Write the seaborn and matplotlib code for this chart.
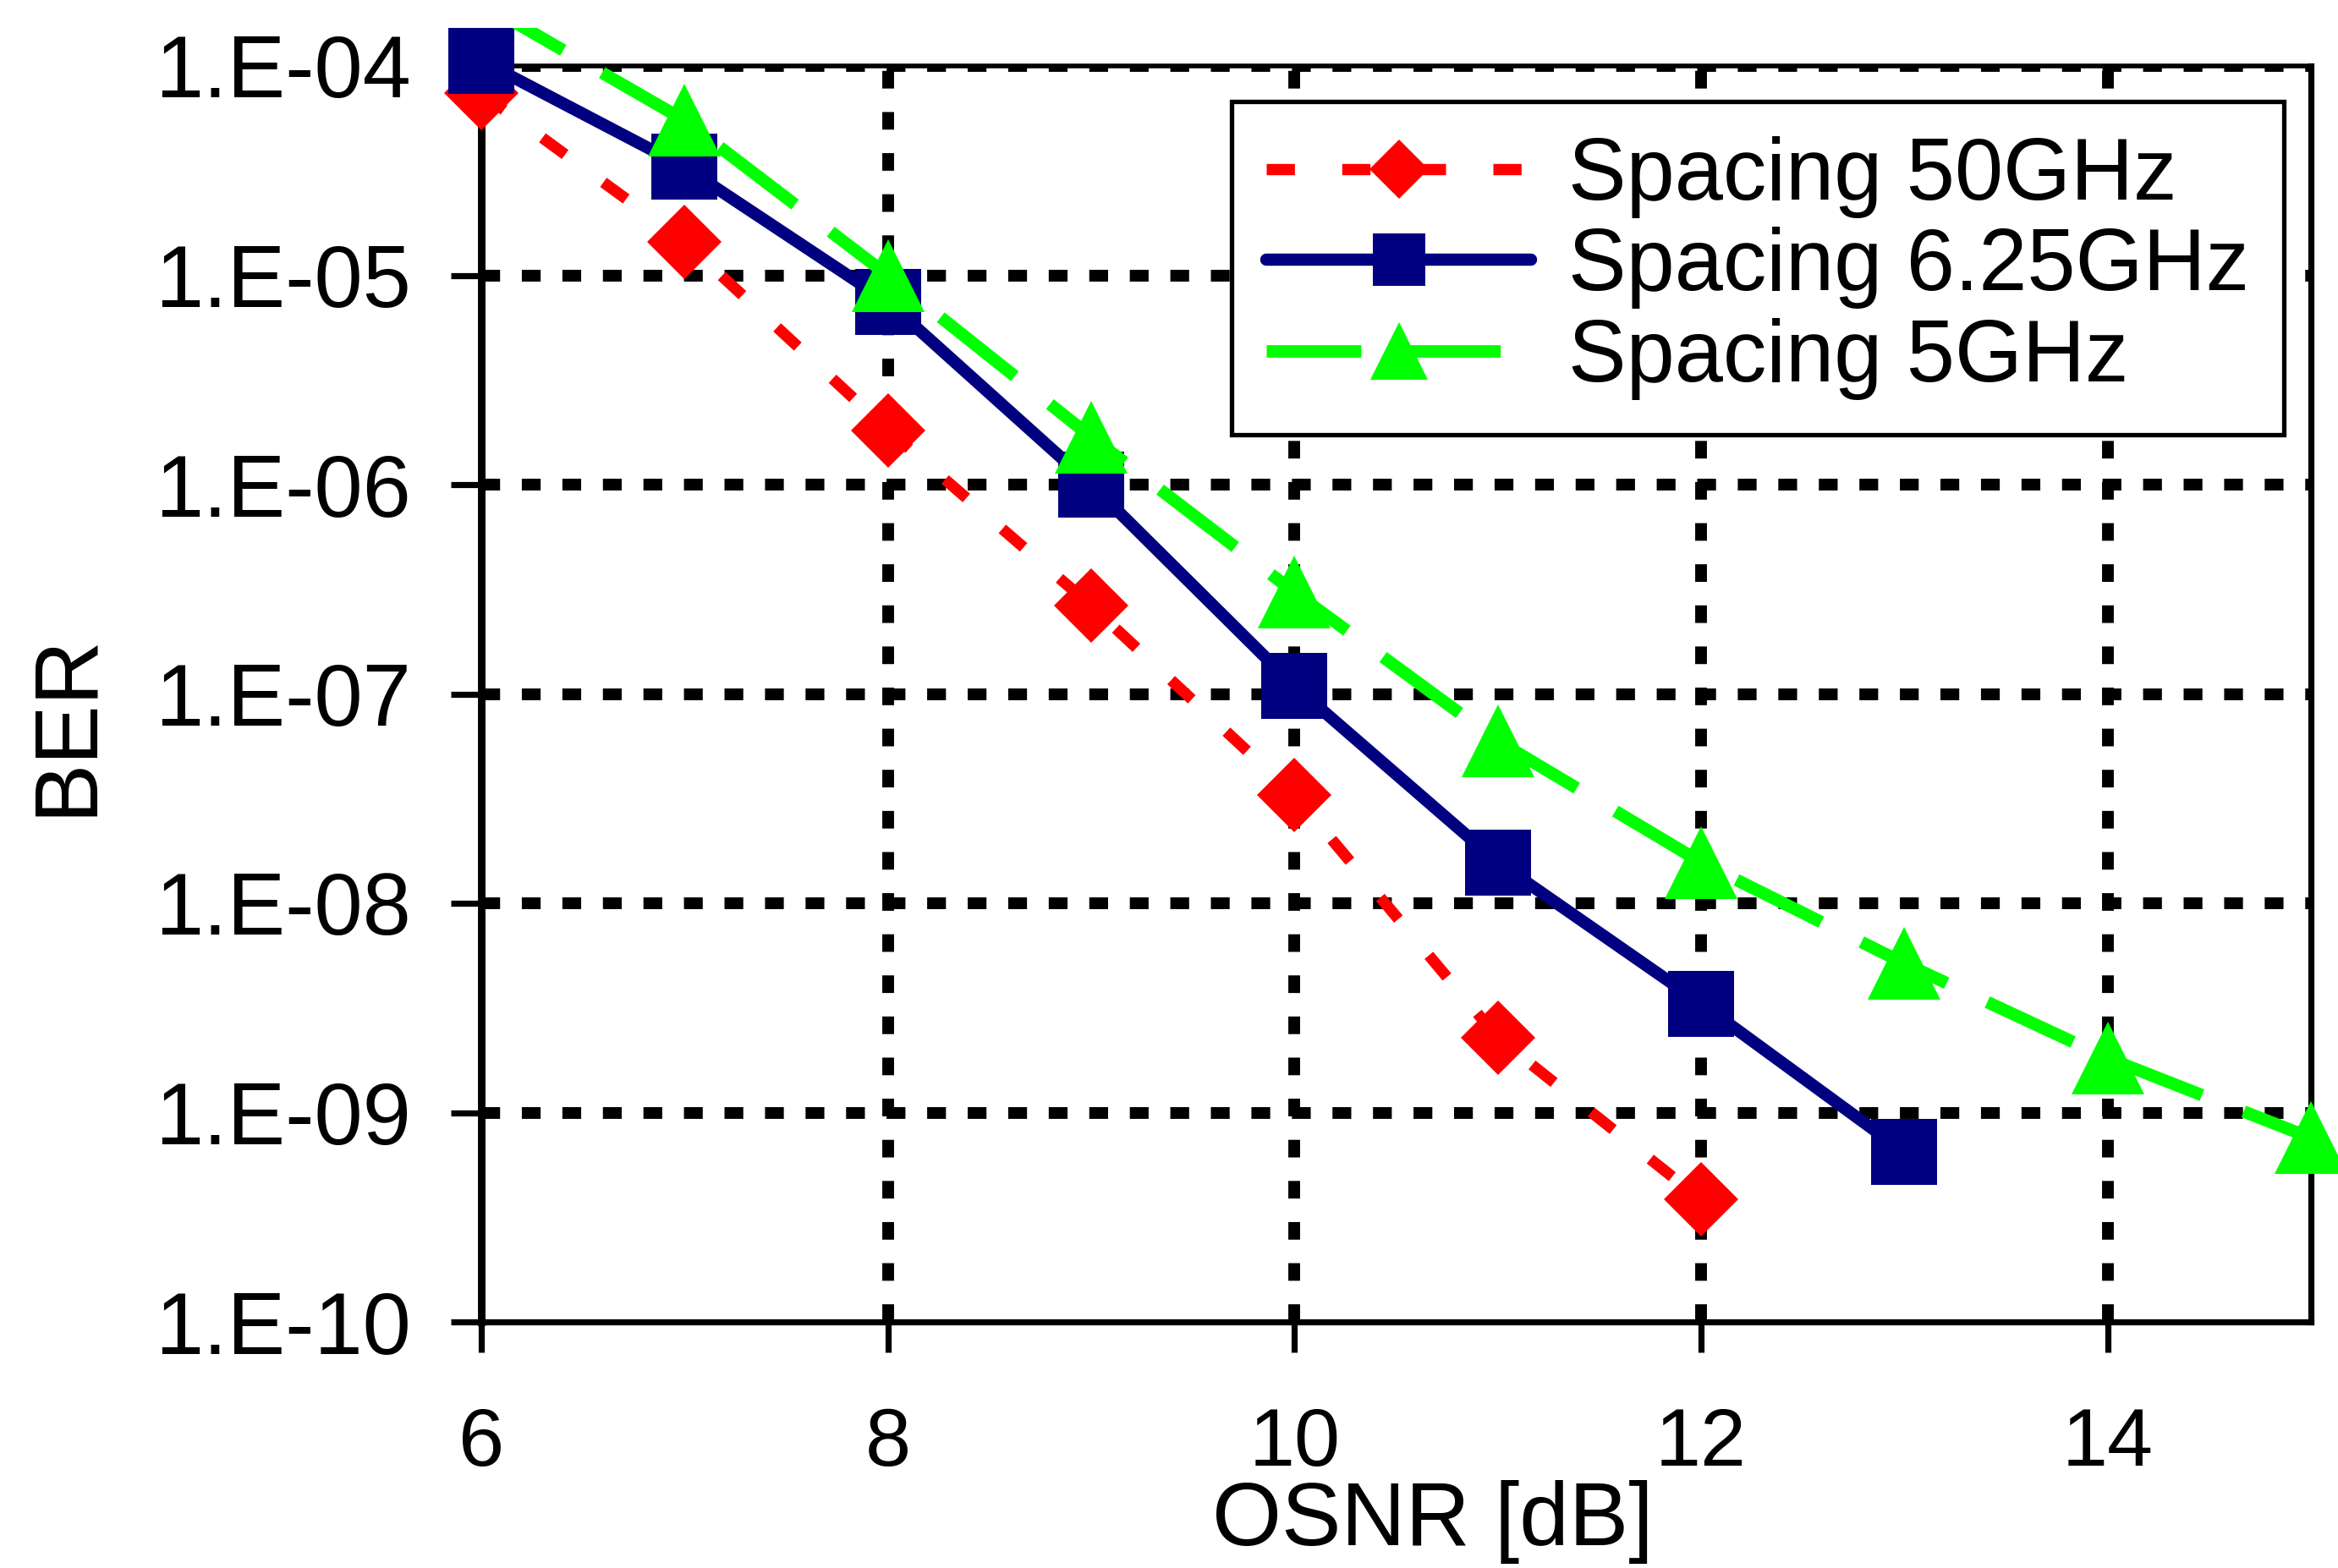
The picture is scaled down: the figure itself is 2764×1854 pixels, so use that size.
import numpy as np
import pandas as pd
import matplotlib
matplotlib.use("Agg")
import matplotlib.pyplot as plt
import seaborn as sns
from matplotlib.ticker import FixedLocator, NullLocator, FuncFormatter
from matplotlib.transforms import Bbox, TransformedBbox

# ---- data ----
osnr_50 = [6, 7, 8, 9, 10, 11, 12]
ber_50 = [7.4e-5, 1.45e-5, 1.82e-6, 2.64e-7, 3.29e-8, 2.28e-9, 3.84e-10]

osnr_625 = [6, 7, 8, 9, 10, 11, 12, 13]
ber_625 = [1.06e-4, 3.29e-5, 7.46e-6, 1.0e-6, 1.09e-7, 1.57e-8, 3.32e-9, 6.48e-10]

osnr_5 = [6, 7, 8, 9, 10, 11, 12, 13, 14, 15]
ber_5 = [2.0e-4, 5.5e-5, 1.0e-5, 1.69e-6, 3.06e-7, 5.96e-8, 1.57e-8, 5.16e-9, 1.82e-9, 7.57e-10]

labels = ["Spacing 50GHz", "Spacing 6.25GHz", "Spacing 5GHz"]
x_ticks = [6, 8, 10, 12, 14]
y_ticks = [1e-10, 1e-9, 1e-8, 1e-7, 1e-6, 1e-5, 1e-4]
x_label = "OSNR [dB]"
y_label = "BER"

# ---- figure ----
sns.set_theme(style="white")
plt.rcParams["font.family"] = ["Liberation Sans", "DejaVu Sans"]
plt.rcParams["text.color"] = "black"

W, H, DPI = 2764, 1854, 200
fig = plt.figure(figsize=(W / DPI, H / DPI), dpi=DPI)
ax = fig.add_axes([569 / W, (H - 1563) / H, (2732 - 569) / W, (1563 - 78) / H])

df50 = pd.DataFrame({"x": osnr_50, "y": ber_50})
df625 = pd.DataFrame({"x": osnr_625, "y": ber_625})
df5 = pd.DataFrame({"x": osnr_5, "y": ber_5})

sns.lineplot(data=df50, x="x", y="y", ax=ax, color="#FF0000", linewidth=4.8,
             linestyle=(0, (2.5, 4.2)), marker="D", markersize=22.5,
             markeredgewidth=0, markeredgecolor="#FF0000",
             label=labels[0], zorder=5, errorbar=None)
sns.lineplot(data=df625, x="x", y="y", ax=ax, color="#000080", linewidth=5.2,
             linestyle="-", marker="s", markersize=28,
             markeredgewidth=0, markeredgecolor="#000080",
             label=labels[1], zorder=6, errorbar=None)
sns.lineplot(data=df5, x="x", y="y", ax=ax, color="#00FF00", linewidth=5.3,
             linestyle=(0, (7.6, 3.6)), marker="^", markersize=31,
             markeredgewidth=0, markeredgecolor="#00FF00",
             label=labels[2], zorder=7, errorbar=None)

ax.set_yscale("log")
ax.set_xlim(6, 15)
ax.set_ylim(1e-10, 1e-4)

ax.xaxis.set_major_locator(FixedLocator(x_ticks))
ax.xaxis.set_minor_locator(NullLocator())
ax.yaxis.set_major_locator(FixedLocator(y_ticks))
ax.yaxis.set_minor_locator(NullLocator())
ax.yaxis.set_major_formatter(FuncFormatter(lambda v, p: "1.E-%02d" % int(round(-np.log10(v)))))
ax.xaxis.set_major_formatter(FuncFormatter(lambda v, p: "%d" % v))

ax.tick_params(axis="both", which="major", direction="out", length=13, width=2.6,
               color="black", labelcolor="black")
ax.tick_params(axis="y", pad=17, left=True, labelsize=37)
ax.tick_params(axis="x", pad=23, bottom=True, labelsize=35)

# grid
ax.grid(False)
for yv in y_ticks[1:]:
    ax.axhline(yv, color="black", lw=5, linestyle=(0, (1.6, 1.85)), zorder=1)
for xv in x_ticks[1:]:
    ax.axvline(xv, color="black", lw=5, linestyle=(0, (1.5, 2.0)), zorder=1)

for side, lw in [("left", 3.2), ("bottom", 2.6), ("right", 2.6), ("top", 2.0)]:
    ax.spines[side].set_visible(True)
    ax.spines[side].set_color("black")
    ax.spines[side].set_linewidth(lw)

ax.set_xlabel(x_label, fontsize=38, color="black")
ax.set_ylabel(y_label, fontsize=38, color="black")
ax.xaxis.label.set_va("center")
ax.yaxis.label.set_va("center")
ax.xaxis.set_label_coords(0.520, -0.159)
ax.yaxis.set_label_coords(-0.2265, 0.4754)

leg = ax.legend(loc="upper left", bbox_to_anchor=(0.410, 0.9717), borderaxespad=0,
                fontsize=37, handlelength=3.05, handletextpad=0.42, labelspacing=0.1,
                borderpad=0.4, frameon=True, fancybox=False, markerscale=0.8,
                framealpha=1.0)
leg.get_frame().set_edgecolor("black")
leg.get_frame().set_facecolor("white")
leg.get_frame().set_linewidth(1.9)
leg.set_zorder(10)
for t in leg.get_texts():
    t.set_color("black")

# clip data lines to a box slightly taller than the axes (like the original plot area)
clipbox = TransformedBbox(Bbox.from_extents(0, 0, 1, (H - 33) / H), fig.transFigure)
data_lines = [l for l in ax.get_lines() if len(l.get_xdata()) > 2]
for l in data_lines:
    l.set_clip_box(clipbox)
# the first (off-scale) marker of the 5GHz series is not drawn in the original
data_lines[2].set_markevery(list(range(1, len(osnr_5))))

fig.savefig("out.png", dpi=DPI, facecolor="white")
